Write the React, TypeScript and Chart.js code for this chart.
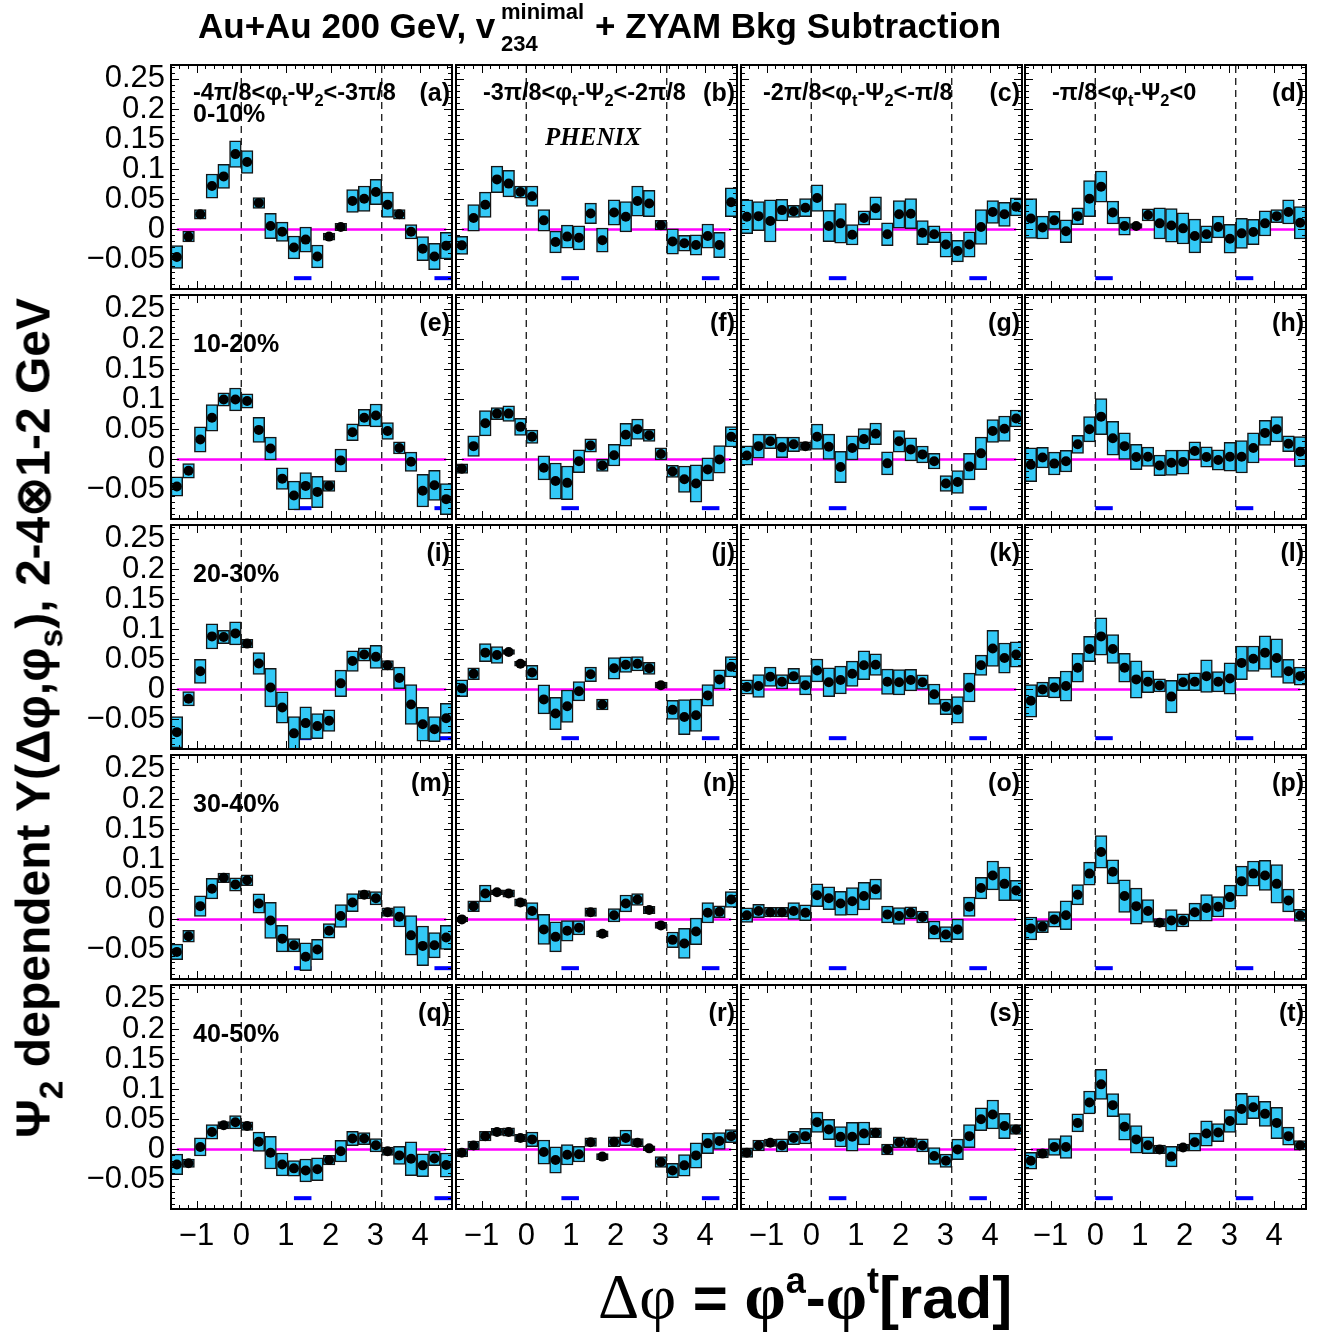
import React, { useEffect, useRef } from 'react';
import { Chart, registerables } from 'chart.js';

Chart.register(...registerables);

const SANS = '"Liberation Sans", Arial, Helvetica, sans-serif';
const SERIF = '"Liberation Serif", "Times New Roman", serif';

// ---------- axes ----------
const X_MIN = -Math.PI / 2;
const X_MAX = (3 * Math.PI) / 2;
const Y_MIN = -0.099;
const Y_MAX = 0.273;
const Y_TICK_VALUES = [-0.05, 0, 0.05, 0.1, 0.15, 0.2, 0.25];
const Y_TICK_LABELS = ['\u22120.05', '0', '0.05', '0.1', '0.15', '0.2', '0.25'];
const X_TICK_VALUES = [-1, 0, 1, 2, 3, 4];
const X_TICK_LABELS = ['\u22121', '0', '1', '2', '3', '4'];

// ---------- binning (24 bins of pi/12) ----------
const BIN_CENTERS = [
  -1.4399, -1.1781, -0.9163, -0.6545, -0.3927, -0.1309, 0.1309, 0.3927, 0.6545, 0.9163, 1.1781, 1.4399,
  1.7017, 1.9635, 2.2253, 2.4871, 2.7489, 3.0107, 3.2725, 3.5343, 3.7961, 4.0579, 4.3197, 4.5815,
];

// ---------- trigger angle markers per column ----------
const NEAR_MARK = [1.374, 0.982, 0.589, 0.196];
const AWAY_MARK = [4.516, 4.123, 3.731, 3.338];
const MARK_HALF_WIDTH = 0.196;
const MARK_Y = -0.081;
const DASHED_X = [0, Math.PI];

// ---------- data: values (Y) and systematic half-heights (S) ----------
const Y_A = [-0.046, -0.012, 0.025, 0.072, 0.088, 0.125, 0.112, 0.044, 0.0055, -0.004, -0.03, -0.017, -0.045, -0.012, 0.004, 0.047, 0.051, 0.062, 0.041, 0.025, -0.004, -0.032, -0.045, -0.027];
const S_A = [0.019, 0.009, 0.008, 0.02, 0.02, 0.022, 0.019, 0.009, 0.021, 0.016, 0.019, 0.021, 0.019, 0.006, 0.006, 0.019, 0.021, 0.021, 0.021, 0.008, 0.012, 0.02, 0.022, 0.022];
const Y_B = [-0.0265, 0.019, 0.041, 0.083, 0.076, 0.062, 0.055, 0.015, -0.021, -0.012, -0.014, 0.0265, -0.018, 0.028, 0.021, 0.047, 0.043, 0.007, -0.02, -0.023, -0.026, -0.011, -0.026, 0.045];
const S_B = [0.015, 0.022, 0.021, 0.022, 0.022, 0.01, 0.017, 0.018, 0.018, 0.019, 0.02, 0.017, 0.02, 0.021, 0.025, 0.025, 0.022, 0.008, 0.021, 0.013, 0.017, 0.02, 0.021, 0.024];
const Y_C = [0.021, 0.022, 0.014, 0.032, 0.03, 0.036, 0.052, 0.0055, 0.01, -0.009, 0.019, 0.035, -0.008, 0.025, 0.026, -0.0055, -0.008, -0.025, -0.036, -0.025, 0.004, 0.029, 0.025, 0.0375];
const S_C = [0.028, 0.024, 0.035, 0.018, 0.01, 0.015, 0.022, 0.026, 0.033, 0.017, 0.012, 0.019, 0.019, 0.023, 0.025, 0.02, 0.014, 0.021, 0.018, 0.021, 0.029, 0.019, 0.02, 0.015];
const Y_D = [0.018, 0.003, 0.015, -0.003, 0.022, 0.051, 0.071, 0.028, 0.0055, 0.0055, 0.024, 0.01, 0.0066, 0.0017, -0.011, -0.008, 0.004, -0.0155, -0.0066, -0.0044, 0.01, 0.022, 0.029, 0.011];
const S_D = [0.033, 0.019, 0.015, 0.019, 0.014, 0.03, 0.026, 0.019, 0.015, 0.004, 0.01, 0.026, 0.028, 0.026, 0.028, 0.014, 0.018, 0.024, 0.025, 0.021, 0.021, 0.011, 0.02, 0.027];
const Y_E = [-0.045, -0.019, 0.033, 0.069, 0.0995, 0.0995, 0.097, 0.049, 0.018, -0.032, -0.06, -0.044, -0.054, -0.044, -0.0017, 0.045, 0.069, 0.073, 0.047, 0.019, -0.004, -0.052, -0.043, -0.066];
const S_E = [0.016, 0.012, 0.021, 0.022, 0.011, 0.019, 0.012, 0.021, 0.019, 0.018, 0.024, 0.022, 0.026, 0.009, 0.019, 0.014, 0.014, 0.019, 0.014, 0.01, 0.016, 0.027, 0.025, 0.026];
const Y_F = [-0.0155, 0.022, 0.06, 0.076, 0.076, 0.054, 0.0375, -0.014, -0.036, -0.039, -0.003, 0.023, -0.01, 0.007, 0.041, 0.05, 0.04, 0.009, -0.02, -0.033, -0.04, -0.0166, 0.0, 0.0375];
const S_F = [0.008, 0.017, 0.021, 0.01, 0.013, 0.014, 0.011, 0.02, 0.03, 0.028, 0.019, 0.011, 0.01, 0.018, 0.019, 0.017, 0.01, 0.01, 0.01, 0.022, 0.031, 0.019, 0.023, 0.017];
const Y_G = [0.0066, 0.022, 0.03, 0.02, 0.025, 0.022, 0.0375, 0.021, -0.0127, 0.019, 0.034, 0.0425, -0.0066, 0.03, 0.0166, 0.0083, -0.003, -0.04, -0.0375, -0.012, 0.01, 0.047, 0.051, 0.068];
const S_G = [0.016, 0.02, 0.012, 0.017, 0.012, 0.007, 0.021, 0.021, 0.026, 0.02, 0.017, 0.018, 0.019, 0.018, 0.019, 0.014, 0.013, 0.013, 0.019, 0.022, 0.027, 0.019, 0.021, 0.014];
const Y_H = [-0.009, 0.003, -0.007, -0.003, 0.025, 0.05, 0.071, 0.035, 0.022, 0.004, 0.0044, -0.01, -0.0055, -0.0044, 0.014, 0.004, -0.001, 0.0044, 0.0044, 0.019, 0.044, 0.05, 0.026, 0.0127];
const S_H = [0.028, 0.017, 0.019, 0.018, 0.015, 0.021, 0.03, 0.028, 0.022, 0.021, 0.016, 0.017, 0.021, 0.02, 0.015, 0.017, 0.017, 0.024, 0.027, 0.025, 0.021, 0.021, 0.013, 0.025];
const Y_I = [-0.071, -0.0155, 0.03, 0.088, 0.087, 0.093, 0.076, 0.043, 0.003, -0.03, -0.073, -0.056, -0.061, -0.052, 0.01, 0.047, 0.058, 0.054, 0.04, 0.019, -0.025, -0.058, -0.066, -0.048];
const S_I = [0.026, 0.012, 0.02, 0.021, 0.011, 0.019, 0.007, 0.018, 0.032, 0.026, 0.028, 0.027, 0.021, 0.018, 0.022, 0.017, 0.011, 0.019, 0.008, 0.018, 0.033, 0.028, 0.021, 0.025];
const Y_J = [0.0017, 0.026, 0.061, 0.057, 0.062, 0.0425, 0.028, -0.0166, -0.04, -0.028, -0.003, 0.025, -0.025, 0.035, 0.041, 0.0425, 0.035, 0.007, -0.034, -0.046, -0.043, -0.01, 0.0166, 0.0375];
const S_J = [0.014, 0.01, 0.015, 0.014, 0.004, 0.004, 0.012, 0.024, 0.027, 0.027, 0.016, 0.012, 0.009, 0.018, 0.013, 0.012, 0.01, 0.005, 0.016, 0.029, 0.027, 0.018, 0.016, 0.017];
const Y_K = [0.004, 0.0055, 0.021, 0.0127, 0.022, 0.007, 0.0315, 0.012, 0.0155, 0.026, 0.04, 0.041, 0.0127, 0.012, 0.0155, 0.012, -0.008, -0.029, -0.034, 0.003, 0.04, 0.068, 0.052, 0.058];
const S_K = [0.012, 0.019, 0.016, 0.012, 0.013, 0.016, 0.019, 0.024, 0.023, 0.021, 0.024, 0.018, 0.021, 0.021, 0.018, 0.012, 0.017, 0.013, 0.022, 0.024, 0.017, 0.03, 0.025, 0.021];
const Y_L = [-0.019, 0.0, 0.003, 0.0055, 0.036, 0.067, 0.088, 0.067, 0.036, 0.0166, 0.0127, 0.0066, -0.012, 0.012, 0.0127, 0.022, 0.0127, 0.018, 0.044, 0.051, 0.061, 0.052, 0.03, 0.022];
const S_L = [0.027, 0.012, 0.017, 0.025, 0.024, 0.021, 0.031, 0.024, 0.024, 0.031, 0.018, 0.011, 0.027, 0.014, 0.015, 0.027, 0.017, 0.026, 0.028, 0.021, 0.028, 0.032, 0.02, 0.015];
const Y_M = [-0.054, -0.028, 0.022, 0.051, 0.069, 0.058, 0.065, 0.0265, -0.0017, -0.032, -0.043, -0.062, -0.05, -0.019, 0.0055, 0.028, 0.041, 0.035, 0.012, 0.0044, -0.0265, -0.044, -0.043, -0.03];
const S_M = [0.013, 0.01, 0.017, 0.017, 0.008, 0.011, 0.009, 0.016, 0.03, 0.022, 0.011, 0.023, 0.017, 0.012, 0.019, 0.015, 0.007, 0.011, 0.007, 0.017, 0.033, 0.033, 0.021, 0.02];
const Y_N = [0.0, 0.022, 0.043, 0.045, 0.043, 0.028, 0.014, -0.0166, -0.029, -0.019, -0.014, 0.012, -0.024, 0.007, 0.0265, 0.033, 0.0155, -0.01, -0.034, -0.04, -0.02, 0.011, 0.0127, 0.033];
const S_N = [0.004, 0.009, 0.014, 0.004, 0.006, 0.006, 0.014, 0.025, 0.025, 0.017, 0.012, 0.007, 0.005, 0.011, 0.014, 0.01, 0.006, 0.005, 0.013, 0.025, 0.022, 0.017, 0.01, 0.013];
const Y_O = [0.007, 0.014, 0.012, 0.012, 0.014, 0.011, 0.04, 0.035, 0.0265, 0.03, 0.0387, 0.05, 0.0083, 0.0055, 0.011, 0.004, -0.0177, -0.025, -0.0166, 0.021, 0.052, 0.073, 0.059, 0.048];
const S_O = [0.012, 0.011, 0.008, 0.008, 0.014, 0.013, 0.019, 0.019, 0.02, 0.023, 0.023, 0.017, 0.014, 0.014, 0.01, 0.01, 0.015, 0.013, 0.017, 0.016, 0.018, 0.024, 0.028, 0.017];
const Y_P = [-0.015, -0.012, 0.0, 0.007, 0.041, 0.076, 0.112, 0.079, 0.0387, 0.022, 0.014, -0.0055, -0.0017, -0.0017, 0.012, 0.019, 0.021, 0.037, 0.0635, 0.076, 0.073, 0.059, 0.0315, 0.0066];
const S_P = [0.019, 0.01, 0.013, 0.024, 0.017, 0.019, 0.027, 0.02, 0.027, 0.03, 0.019, 0.007, 0.018, 0.011, 0.015, 0.022, 0.017, 0.02, 0.025, 0.021, 0.025, 0.032, 0.019, 0.01];
const Y_Q = [-0.025, -0.023, 0.004, 0.029, 0.04, 0.045, 0.0387, 0.0127, -0.0055, -0.025, -0.0315, -0.035, -0.033, -0.0177, -0.003, 0.018, 0.018, 0.007, -0.003, -0.01, -0.0155, -0.0265, -0.015, -0.026];
const S_Q = [0.017, 0.007, 0.015, 0.012, 0.006, 0.011, 0.007, 0.016, 0.027, 0.019, 0.013, 0.019, 0.019, 0.008, 0.018, 0.012, 0.01, 0.011, 0.007, 0.015, 0.028, 0.019, 0.012, 0.02];
const Y_R = [-0.0055, 0.0066, 0.022, 0.029, 0.029, 0.019, 0.0166, -0.0044, -0.0177, -0.009, -0.008, 0.012, -0.012, 0.0127, 0.019, 0.011, 0.0017, -0.021, -0.035, -0.0265, -0.01, 0.01, 0.014, 0.022];
const S_R = [0.007, 0.007, 0.008, 0.006, 0.007, 0.006, 0.012, 0.02, 0.022, 0.017, 0.013, 0.007, 0.005, 0.008, 0.013, 0.007, 0.004, 0.009, 0.012, 0.018, 0.021, 0.017, 0.014, 0.011];
const Y_S = [-0.0055, 0.0066, 0.011, 0.0066, 0.019, 0.022, 0.045, 0.033, 0.021, 0.021, 0.0265, 0.0276, 0.0, 0.012, 0.011, 0.0066, -0.011, -0.019, 0.0, 0.022, 0.05, 0.058, 0.0387, 0.033];
const S_S = [0.008, 0.009, 0.006, 0.011, 0.011, 0.013, 0.017, 0.017, 0.017, 0.024, 0.019, 0.008, 0.009, 0.009, 0.008, 0.011, 0.014, 0.011, 0.017, 0.019, 0.019, 0.024, 0.021, 0.008];
const Y_T = [-0.019, -0.007, 0.004, 0.004, 0.044, 0.078, 0.108, 0.0735, 0.0375, 0.0166, 0.007, 0.0, -0.012, 0.003, 0.012, 0.0265, 0.028, 0.047, 0.067, 0.07, 0.059, 0.044, 0.022, 0.0066];
const S_T = [0.014, 0.007, 0.014, 0.019, 0.015, 0.019, 0.025, 0.019, 0.022, 0.023, 0.014, 0.007, 0.017, 0.006, 0.015, 0.021, 0.015, 0.019, 0.026, 0.019, 0.021, 0.026, 0.015, 0.008];

const PANEL_VALUES = [
  [Y_A, Y_B, Y_C, Y_D],
  [Y_E, Y_F, Y_G, Y_H],
  [Y_I, Y_J, Y_K, Y_L],
  [Y_M, Y_N, Y_O, Y_P],
  [Y_Q, Y_R, Y_S, Y_T],
];
const PANEL_SYS = [
  [S_A, S_B, S_C, S_D],
  [S_E, S_F, S_G, S_H],
  [S_I, S_J, S_K, S_L],
  [S_M, S_N, S_O, S_P],
  [S_Q, S_R, S_S, S_T],
];
const PANEL_LETTERS = [
  ['a', 'b', 'c', 'd'],
  ['e', 'f', 'g', 'h'],
  ['i', 'j', 'k', 'l'],
  ['m', 'n', 'o', 'p'],
  ['q', 'r', 's', 't'],
];
const CENTRALITY = ['0-10%', '10-20%', '20-30%', '30-40%', '40-50%'];
const RANGE_LOW = ['-4\u03c0/8', '-3\u03c0/8', '-2\u03c0/8', '-\u03c0/8'];
const RANGE_HIGH = ['-3\u03c0/8', '-2\u03c0/8', '-\u03c0/8', '0'];

// ---------- layout ----------
const PANEL_X = [171, 456, 741, 1025];
const PANEL_Y = [65, 295, 525, 755, 985];
const PW = 281;
const PH = 224;
const M = 30;
const LW = 110;
const LH = 55;

const CYAN = '#33c9f6';
const MAGENTA = '#ff00ff';

const framePlugin = {
  id: 'rootFrame',
  afterDraw(chart: any) {
    const { ctx, chartArea, scales } = chart;
    const { left, right, top, bottom } = chartArea;
    const xs = scales.x;
    const ys = scales.y;
    ctx.save();
    ctx.strokeStyle = '#000';
    ctx.lineWidth = 1;
    ctx.beginPath();
    for (let k = -9; k <= 27; k++) {
      const v = k / 100;
      if (v < Y_MIN || v > Y_MAX) continue;
      const py = Math.round(ys.getPixelForValue(v)) + 0.5;
      const len = k % 5 === 0 ? 8 : 4;
      ctx.moveTo(left, py);
      ctx.lineTo(left + len, py);
      ctx.moveTo(right, py);
      ctx.lineTo(right - len, py);
    }
    for (let k = -7; k <= 23; k++) {
      const v = k / 5;
      if (v < X_MIN || v > X_MAX) continue;
      const px = Math.round(xs.getPixelForValue(v)) + 0.5;
      const len = k % 5 === 0 ? 8 : 4;
      ctx.moveTo(px, bottom);
      ctx.lineTo(px, bottom - len);
      ctx.moveTo(px, top);
      ctx.lineTo(px, top + len);
    }
    ctx.stroke();
    ctx.lineWidth = 2;
    ctx.strokeRect(left, top, right - left, bottom - top);
    ctx.restore();
  },
};

function Panel({ row, col }: { row: number; col: number }) {
  const ref = useRef<HTMLCanvasElement>(null);
  const leftCol = col === 0;
  const bottomRow = row === 4;
  const padL = leftCol ? LW : M;
  const padB = bottomRow ? LH : M;
  const width = padL + PW + M;
  const height = M + PH + padB;

  useEffect(() => {
    const values = PANEL_VALUES[row][col];
    const sys = PANEL_SYS[row][col];
    const points = values.map((v, i) => ({ x: BIN_CENTERS[i], y: v }));
    const boxes = values.map((v, i) => ({ x: BIN_CENTERS[i], y: [v - sys[i], v + sys[i]] }));
    const near = NEAR_MARK[col];
    const away = AWAY_MARK[col];
    const lineBase = { type: 'line', pointRadius: 0, fill: false, tension: 0 };
    const datasets: any[] = [
      {
        type: 'line',
        label: 'Y',
        data: points,
        showLine: false,
        pointRadius: 5,
        pointBackgroundColor: '#000',
        pointBorderColor: '#000',
        pointBorderWidth: 0,
        order: 0,
      },
      {
        type: 'bar',
        label: 'sys',
        data: boxes,
        backgroundColor: CYAN,
        borderColor: '#151515',
        borderWidth: 1.5,
        borderSkipped: false,
        barPercentage: 1,
        categoryPercentage: 1,
        grouped: false,
        clip: 0,
        order: 1,
      },
      {
        ...lineBase,
        label: 'near',
        data: [
          { x: near - MARK_HALF_WIDTH, y: MARK_Y },
          { x: near + MARK_HALF_WIDTH, y: MARK_Y },
        ],
        borderColor: '#0000ff',
        borderWidth: 4,
        borderCapStyle: 'butt',
        order: 2,
      },
      {
        ...lineBase,
        label: 'away',
        data: [
          { x: away - MARK_HALF_WIDTH, y: MARK_Y },
          { x: away + MARK_HALF_WIDTH, y: MARK_Y },
        ],
        borderColor: '#0000ff',
        borderWidth: 4,
        borderCapStyle: 'butt',
        order: 2,
      },
      {
        ...lineBase,
        label: 'zero',
        data: [
          { x: BIN_CENTERS[0], y: 0 },
          { x: BIN_CENTERS[BIN_CENTERS.length - 1], y: 0 },
        ],
        borderColor: MAGENTA,
        borderWidth: 2.5,
        order: 3,
      },
      ...DASHED_X.map((dx) => ({
        ...lineBase,
        label: 'dash',
        data: [
          { x: dx, y: Y_MIN },
          { x: dx, y: Y_MAX },
        ],
        borderColor: '#000',
        borderWidth: 1.2,
        borderDash: [7, 5],
        order: 4,
      })),
    ];

    const chart = new Chart(ref.current as HTMLCanvasElement, {
      type: 'bar',
      data: { datasets },
      options: {
        animation: false,
        responsive: false,
        events: [],
        layout: {
          padding: {
            left: leftCol ? 0 : M,
            right: M,
            top: M,
            bottom: bottomRow ? 0 : M,
          },
        },
        plugins: { legend: { display: false }, tooltip: { enabled: false }, title: { display: false } },
        scales: {
          x: {
            type: 'linear',
            min: X_MIN,
            max: X_MAX,
            offset: false,
            display: bottomRow,
            position: 'bottom',
            grid: { display: false, drawTicks: false },
            border: { display: false },
            afterBuildTicks: (s: any) => {
              s.ticks = X_TICK_VALUES.map((v) => ({ value: v }));
            },
            afterFit: (s: any) => {
              s.height = bottomRow ? LH : 0;
            },
            ticks: {
              autoSkip: false,
              maxRotation: 0,
              padding: 9,
              color: '#000',
              font: { family: SANS, size: 31 },
              callback: (v: any) => X_TICK_LABELS[X_TICK_VALUES.indexOf(Number(v))],
            },
          },
          y: {
            type: 'linear',
            min: Y_MIN,
            max: Y_MAX,
            display: leftCol,
            position: 'left',
            grid: { display: false, drawTicks: false },
            border: { display: false },
            afterBuildTicks: (s: any) => {
              s.ticks = Y_TICK_VALUES.map((v) => ({ value: v }));
            },
            afterFit: (s: any) => {
              s.width = leftCol ? LW : 0;
            },
            ticks: {
              autoSkip: false,
              padding: 6,
              color: '#000',
              font: { family: SANS, size: 31 },
              callback: (v: any) => {
                const idx = Y_TICK_VALUES.findIndex((t) => Math.abs(t - Number(v)) < 1e-9);
                return idx >= 0 ? Y_TICK_LABELS[idx] : '';
              },
            },
          },
        },
      } as any,
      plugins: [framePlugin],
    });
    return () => chart.destroy();
  }, [row, col]);

  return (
    <canvas
      ref={ref}
      width={width}
      height={height}
      style={{ position: 'absolute', left: PANEL_X[col] - padL, top: PANEL_Y[row] - M, width, height }}
    />
  );
}

const Sub = ({ children }: { children: React.ReactNode }) => (
  <span style={{ fontSize: '0.7em', position: 'relative', top: '0.38em' }}>{children}</span>
);
const Sup = ({ children }: { children: React.ReactNode }) => (
  <span style={{ fontSize: '0.6em', position: 'relative', top: '-0.7em' }}>{children}</span>
);

export default function App() {
  const panels: React.ReactNode[] = [];
  const texts: React.ReactNode[] = [];
  for (let r = 0; r < 5; r++) {
    for (let c = 0; c < 4; c++) {
      panels.push(<Panel key={`p${r}${c}`} row={r} col={c} />);
      texts.push(
        <div
          key={`l${r}${c}`}
          style={{
            position: 'absolute',
            left: PANEL_X[c],
            width: PW - 2,
            top: PANEL_Y[r] + 15,
            textAlign: 'right',
            font: `bold 25px ${SANS}`,
            lineHeight: '25px',
            whiteSpace: 'nowrap',
          }}
        >
          ({PANEL_LETTERS[r][c]})
        </div>
      );
    }
    texts.push(
      <div
        key={`cent${r}`}
        style={{
          position: 'absolute',
          left: PANEL_X[0] + 22,
          top: PANEL_Y[r] + 36,
          font: `bold 25px ${SANS}`,
          lineHeight: '25px',
          whiteSpace: 'nowrap',
        }}
      >
        {CENTRALITY[r]}
      </div>
    );
  }
  for (let c = 0; c < 4; c++) {
    texts.push(
      <div
        key={`h${c}`}
        style={{
          position: 'absolute',
          left: PANEL_X[c] + (c === 1 || c === 3 ? 27 : 22),
          top: PANEL_Y[0] + 15,
          font: `bold 23.5px ${SANS}`,
          lineHeight: '24px',
          whiteSpace: 'nowrap',
        }}
      >
        {RANGE_LOW[c]}&lt;{'\u03c6'}
        <Sub>t</Sub>-{'\u03a8'}
        <Sub>2</Sub>&lt;{RANGE_HIGH[c]}
      </div>
    );
  }

  return (
    <div
      style={{
        position: 'absolute',
        left: 0,
        top: 0,
        width: 1325,
        height: 1332,
        background: '#fff',
        overflow: 'hidden',
        color: '#000',
      }}
    >
      {panels}
      {texts}
      <div
        style={{
          position: 'absolute',
          left: 545,
          top: 124,
          font: `italic bold 25px ${SERIF}`,
          lineHeight: '25px',
          whiteSpace: 'nowrap',
        }}
      >
        PHENIX
      </div>
      {/* title */}
      <div style={{ position: 'absolute', left: 198, top: 8, font: `bold 35px ${SANS}`, lineHeight: '35px', whiteSpace: 'nowrap' }}>
        Au+Au 200 GeV, v
      </div>
      <div style={{ position: 'absolute', left: 501, top: 1, font: `bold 22px ${SANS}`, lineHeight: '22px', whiteSpace: 'nowrap' }}>
        minimal
      </div>
      <div style={{ position: 'absolute', left: 501, top: 33, font: `bold 22px ${SANS}`, lineHeight: '22px', whiteSpace: 'nowrap' }}>
        234
      </div>
      <div style={{ position: 'absolute', left: 595, top: 8, font: `bold 35px ${SANS}`, lineHeight: '35px', whiteSpace: 'nowrap' }}>
        + ZYAM Bkg Subtraction
      </div>
      {/* y axis title */}
      <div
        style={{
          position: 'absolute',
          left: 36,
          top: 718,
          transform: 'translate(-50%, -50%) rotate(-90deg)',
          font: `bold 48px ${SANS}`,
          lineHeight: '48px',
          whiteSpace: 'nowrap',
        }}
      >
        {'\u03a8'}
        <Sub>2</Sub> dependent Y({'\u0394\u03c6'},{'\u03c6'}
        <Sub>s</Sub>), 2-4{'\u2297'}1-2 GeV
      </div>
      {/* x axis title */}
      <div
        style={{
          position: 'absolute',
          left: 598,
          top: 1266,
          font: `bold 60px ${SANS}`,
          lineHeight: '60px',
          whiteSpace: 'nowrap',
        }}
      >
        <span style={{ fontFamily: SERIF, fontWeight: 'normal', fontSize: '64px' }}>{'\u0394\u03c6'}</span> ={' '}
        <span style={{ fontFamily: SERIF, fontSize: '66px' }}>{'\u03c6'}</span>
        <Sup>a</Sup>-<span style={{ fontFamily: SERIF, fontSize: '66px' }}>{'\u03c6'}</span>
        <Sup>t</Sup>[rad]
      </div>
    </div>
  );
}
